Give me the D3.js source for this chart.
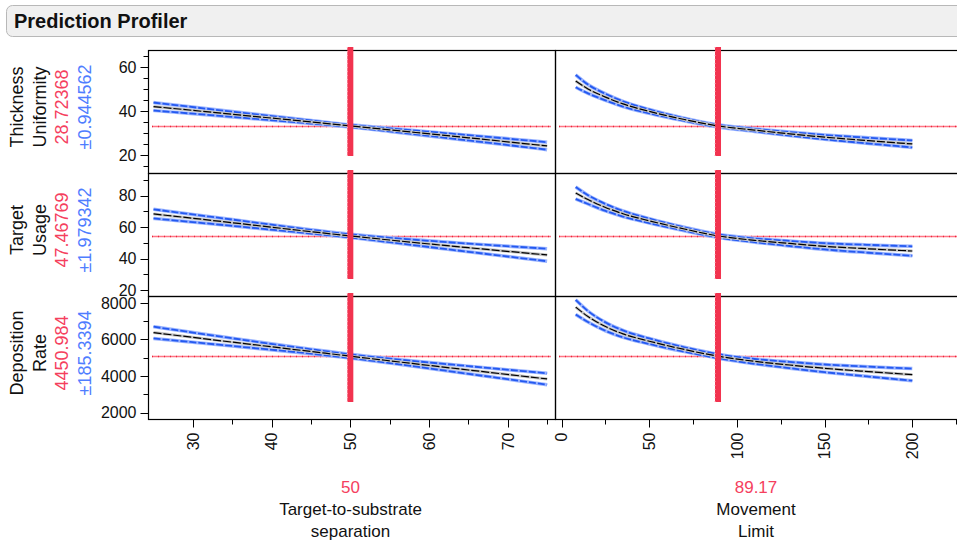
<!DOCTYPE html>
<html>
<head>
<meta charset="utf-8">
<script src="https://cdn.jsdelivr.net/npm/d3@7/dist/d3.min.js"></script>
<style>
  body { margin: 0; background: #fff; }
  text { font-family: Arial, "Liberation Sans", sans-serif; }
</style>
</head>
<body>
<script>
// ---- data ----
var responses = [["Thickness", "Uniformity"], ["Target", "Usage"], ["Deposition", "Rate"]];
var predLabels = ["28.72368", "47.46769", "4450.984"];
var ciLabels = ["\u00b10.944562", "\u00b11.979342", "\u00b1185.3394"];
var factors = [["Target-to-substrate", "separation"], ["Movement", "Limit"]];
var factorLabels = ["50", "89.17"];
var currentX = [50, 89.17];
var currentY = [33.2, 54.4, 5083];

var yDomains = [[11.8, 67.7], [16.2, 94.4], [1653, 8369]];
var yMajor = [[20, 40, 60], [20, 40, 60, 80], [2000, 4000, 6000, 8000]];
var yMinor = [[15, 25, 30, 35, 45, 50, 55, 65], [30, 50, 70, 90], [3000, 5000, 7000]];
var xMajor = [[30, 40, 50, 60, 70], [0, 50, 100, 150, 200]];
var xMinor = [[35, 45, 55, 65, 75], [25, 75, 125, 175, 225]];

// factor grids
var sepX = [25, 35, 45, 50, 55, 65, 75];
var movX = [8, 15, 25, 35, 50, 70, 89.17, 110, 130, 150, 175, 200];

// left column (separation)
var thickSep = [42.0, 38.5, 35.0, 33.2, 31.4, 27.8, 24.1];
var thickSepHi = [43.8, 39.7, 35.7, 33.7, 32.1, 29.0, 25.8];
var thickSepLo = [40.2, 37.3, 34.3, 32.7, 30.7, 26.6, 22.4];
var usageSep = [68.4, 62.8, 57.1, 54.4, 51.8, 46.9, 42.3];
var usageSepHi = [71.3, 64.8, 58.3, 55.4, 53.2, 49.5, 46.3];
var usageSepLo = [65.5, 60.8, 55.9, 53.4, 50.4, 44.3, 38.3];
var rateSep = [6371, 5850, 5340, 5083, 4830, 4330, 3839];
var rateSepHi = [6691, 6060, 5460, 5183, 4950, 4540, 4149];
var rateSepLo = [6051, 5640, 5220, 4983, 4710, 4120, 3529];

// right column (movement limit)
var thickMov = [53.6, 50.0, 46.3, 43.2, 39.8, 36.1, 33.2, 31.3, 29.6, 28.1, 26.5, 25.0];
var thickMovHi = [56.4, 52.0, 47.8, 44.4, 40.7, 36.7, 33.7, 31.9, 30.4, 29.1, 27.8, 26.6];
var thickMovLo = [50.8, 48.0, 44.8, 42.0, 38.9, 35.5, 32.7, 30.7, 28.8, 27.1, 25.2, 23.4];
var usageMov = [81.7, 77.5, 72.5, 68.5, 64.0, 58.8, 54.4, 51.6, 49.6, 47.8, 46.2, 44.8];
var usageMovHi = [85.5, 80.3, 74.7, 70.3, 65.4, 59.9, 55.4, 52.8, 51.2, 49.8, 48.7, 47.8];
var usageMovLo = [77.9, 74.7, 70.3, 66.7, 62.6, 57.7, 53.4, 50.4, 48.0, 45.8, 43.7, 41.8];
var rateMov = [7763, 7250, 6700, 6300, 5900, 5450, 5083, 4800, 4600, 4420, 4240, 4076];
var rateMovHi = [8163, 7550, 6930, 6490, 6050, 5570, 5193, 4930, 4770, 4630, 4510, 4406];
var rateMovLo = [7363, 6950, 6470, 6110, 5750, 5330, 4973, 4670, 4430, 4210, 3970, 3746];

var profiles = [
  [[thickSep, thickSepHi, thickSepLo], [thickMov, thickMovHi, thickMovLo]],
  [[usageSep, usageSepHi, usageSepLo], [usageMov, usageMovHi, usageMovLo]],
  [[rateSep, rateSepHi, rateSepLo], [rateMov, rateMovHi, rateMovLo]]
];
var xGrids = [sepX, movX];

// ---- layout ----
var width = 957, height = 544;
var rowTops = [50, 173, 296], rowH = 123;
var colLeft = [148, 555], colRight = [555, 1000];
var red = "#f2334f", redText = "#f5405e", blueText = "#4f7dff";

var svg = d3.select("body").append("svg")
    .attr("width", width)
    .attr("height", height);

// header bar
svg.append("rect")
    .attr("x", 6.5).attr("y", 5.5)
    .attr("width", 970).attr("height", 31)
    .attr("rx", 6)
    .attr("fill", "#f0f0f0")
    .attr("stroke", "#b8b8b8");
svg.append("text")
    .attr("x", 14).attr("y", 28)
    .style("font-size", "20px")
    .style("font-weight", "bold")
    .attr("fill", "#111")
    .text("Prediction Profiler");

var xScales = [
  d3.scaleLinear().domain([24.3, 76.0]).range([colLeft[0], colRight[0]]),
  d3.scaleLinear().domain([-3.8, 250]).range([colLeft[1], colRight[1]])
];
var yScales = yDomains.map(function(dom, i) {
  return d3.scaleLinear().domain(dom).range([rowTops[i] + rowH, rowTops[i]]);
});

// panel frames
rowTops.forEach(function(top) {
  colLeft.forEach(function(l, c) {
    svg.append("rect")
        .attr("x", l + 0.5).attr("y", top + 0.5)
        .attr("width", colRight[c] - l).attr("height", rowH)
        .attr("fill", "none")
        .attr("stroke", "#000")
        .attr("stroke-width", 1.2);
  });
});

// y axes
yScales.forEach(function(ys, i) {
  var g = svg.append("g").attr("transform", "translate(" + (colLeft[0] + 0.5) + ",0)");
  g.selectAll(".minor").data(yMinor[i]).enter().append("line")
      .attr("x1", -5).attr("x2", 0)
      .attr("y1", function(d) { return Math.round(ys(d)) + 0.5; })
      .attr("y2", function(d) { return Math.round(ys(d)) + 0.5; })
      .attr("stroke", "#000");
  g.selectAll(".major").data(yMajor[i]).enter().append("line")
      .attr("x1", -8).attr("x2", 0)
      .attr("y1", function(d) { return Math.round(ys(d)) + 0.5; })
      .attr("y2", function(d) { return Math.round(ys(d)) + 0.5; })
      .attr("stroke", "#000");
  g.selectAll("text").data(yMajor[i]).enter().append("text")
      .attr("x", -12)
      .attr("y", function(d) { return ys(d); })
      .attr("dy", "0.36em")
      .attr("text-anchor", "end")
      .style("font-size", "16px")
      .attr("fill", "#111")
      .text(function(d) { return d; });

  // row label (rotated)
  var cy = rowTops[i] + rowH / 2 - 4.5;
  var lines = [responses[i][0], responses[i][1], predLabels[i], ciLabels[i]];
  var colors = ["#111", "#111", redText, blueText];
  lines.forEach(function(t, k) {
    var bx = 23 + k * 22.5;
    svg.append("text")
        .attr("transform", "translate(" + bx + "," + cy + ") rotate(-90)")
        .attr("text-anchor", "middle")
        .style("font-size", "18px")
        .attr("fill", colors[k])
        .text(t);
  });
});

// x axes
var axisY = rowTops[2] + rowH + 0.5;
xScales.forEach(function(xs, c) {
  var g = svg.append("g").attr("transform", "translate(0," + axisY + ")");
  g.selectAll(".minor").data(xMinor[c]).enter().append("line")
      .attr("x1", function(d) { return Math.round(xs(d)) + 0.5; })
      .attr("x2", function(d) { return Math.round(xs(d)) + 0.5; })
      .attr("y1", 0).attr("y2", 5)
      .attr("stroke", "#000");
  g.selectAll(".major").data(xMajor[c]).enter().append("line")
      .attr("x1", function(d) { return Math.round(xs(d)) + 0.5; })
      .attr("x2", function(d) { return Math.round(xs(d)) + 0.5; })
      .attr("y1", 0).attr("y2", 8)
      .attr("stroke", "#000");
  g.selectAll("text").data(xMajor[c]).enter().append("text")
      .attr("transform", function(d) { return "translate(" + xs(d) + ",13) rotate(-90)"; })
      .attr("dy", "0.36em")
      .attr("text-anchor", "end")
      .style("font-size", "16px")
      .attr("fill", "#111")
      .text(function(d) { return d; });

  var cx = (colLeft[c] + Math.min(colRight[c], width)) / 2 + (c === 0 ? -1 : 0);
  svg.append("text").attr("x", cx).attr("y", 493)
      .attr("text-anchor", "middle").style("font-size", "17px")
      .attr("fill", redText).text(factorLabels[c]);
  svg.append("text").attr("x", cx).attr("y", 515)
      .attr("text-anchor", "middle").style("font-size", "17px")
      .attr("fill", "#111").text(factors[c][0]);
  svg.append("text").attr("x", cx).attr("y", 537)
      .attr("text-anchor", "middle").style("font-size", "17px")
      .attr("fill", "#111").text(factors[c][1]);
});

// panels: horizontal current-value line, profile curves, vertical current-setting line
var line = d3.line().curve(d3.curveMonotoneX);

rowTops.forEach(function(top, r) {
  var ys = yScales[r];
  colLeft.forEach(function(l, c) {
    var xs = xScales[c];
    var hy = Math.round(ys(currentY[r])) + 0.5;

    // dotted red horizontal
    svg.append("line")
        .attr("x1", l + 4).attr("x2", colRight[c] - 4)
        .attr("y1", hy).attr("y2", hy)
        .attr("stroke", "#ff7585").attr("stroke-width", 1.5);
    svg.append("line")
        .attr("x1", l + 4).attr("x2", colRight[c] - 4)
        .attr("y1", hy).attr("y2", hy)
        .attr("stroke", "#e8283f").attr("stroke-width", 1.5)
        .attr("stroke-dasharray", "1,5");

    var grid = xGrids[c];
    var sets = profiles[r][c];
    function pts(vals) {
      return grid.map(function(x, k) { return [xs(x), ys(vals[k])]; });
    }

    // confidence bands
    [sets[1], sets[2]].forEach(function(vals) {
      svg.append("path").attr("d", line(pts(vals)))
          .attr("fill", "none").attr("stroke", "#9db6ff").attr("stroke-width", 3.5);
      svg.append("path").attr("d", line(pts(vals)))
          .attr("fill", "none").attr("stroke", "#2459f0").attr("stroke-width", 1.8)
          .attr("stroke-dasharray", "7,2");
    });
    // prediction line
    svg.append("path").attr("d", line(pts(sets[0])))
        .attr("fill", "none").attr("stroke", "#c4c4c4").attr("stroke-width", 3);
    svg.append("path").attr("d", line(pts(sets[0])))
        .attr("fill", "none").attr("stroke", "#000").attr("stroke-width", 1.2)
        .attr("stroke-dasharray", "8,2");

    // thick red vertical at current setting
    var vx = xs(currentX[c]);
    svg.append("rect")
        .attr("x", vx - 3).attr("y", top - 3)
        .attr("width", 6).attr("height", rowH - 14)
        .attr("fill", red);
    svg.append("line")
        .attr("x1", vx - 3).attr("x2", vx - 3)
        .attr("y1", top - 3).attr("y2", top + rowH - 17)
        .attr("stroke", "#ffb0bb").attr("stroke-width", 1)
        .attr("stroke-dasharray", "1,3");
  });
});
</script>
</body>
</html>
